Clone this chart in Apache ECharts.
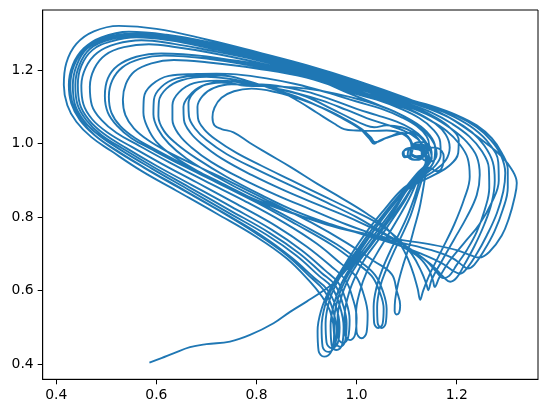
<!DOCTYPE html>
<html>
<head>
<meta charset="utf-8">
<script src="https://cdn.jsdelivr.net/npm/echarts@6/dist/echarts.min.js"></script>
<style>
html,body{margin:0;padding:0;background:#fff;}
#chart{width:547px;height:413px;}
</style>
</head>
<body>
<div id="chart"></div>
<script>
// Tick labels
const xTicks = [0.4, 0.6, 0.8, 1.0, 1.2];
const yTicks = [0.4, 0.6, 0.8, 1.0, 1.2];

// Trajectory pieces, in drawing order
const seg01 = [[0.586,0.404],[0.61,0.416],[0.634,0.429],[0.667,0.446],[0.70,0.454],[0.747,0.461],[0.787,0.479],[0.834,0.511],[0.867,0.542],[0.90,0.57],[0.934,0.60],[0.962,0.63],[0.99,0.675],[1.025,0.745],[1.06,0.81],[1.095,0.87],[1.12,0.915]];
const seg02 = [[1.138,0.95],[1.135,0.98],[1.12,0.993],[1.105,0.985],[1.102,0.967],[1.115,0.956],[1.13,0.966],[1.13,0.99],[1.122,1.015],[1.105,1.03],[1.085,1.026],[1.06,1.016],[1.037,1.004],[1.028,1.018],[1.01,1.04],[0.98,1.065],[0.94,1.093],[0.89,1.12],[0.84,1.14],[0.79,1.15]];
const seg03 = [[0.755,1.143],[0.73,1.125],[0.716,1.098],[0.712,1.072],[0.716,1.05],[0.73,1.04],[0.754,1.031],[0.787,1.002],[0.82,0.975],[0.87,0.935],[0.92,0.892],[0.97,0.852],[1.02,0.81],[1.06,0.77],[1.09,0.72],[1.11,0.66],[1.122,0.605],[1.127,0.575]];
const seg04 = [[1.133,0.6],[1.148,0.65],[1.17,0.71],[1.195,0.78],[1.215,0.85],[1.226,0.91],[1.222,0.96],[1.205,1.0],[1.18,1.035],[1.145,1.065],[1.1,1.095]];
const seg05 = [[1.0,1.14],[0.9,1.188],[0.8,1.222],[0.7,1.25],[0.64,1.263],[0.585,1.271],[0.535,1.263],[0.498,1.242],[0.476,1.205],[0.467,1.155],[0.471,1.105],[0.49,1.065],[0.52,1.03],[0.565,0.995],[0.625,0.95],[0.695,0.9],[0.775,0.845],[0.855,0.785],[0.92,0.728],[0.97,0.672],[0.998,0.64]];
const seg06 = [[1.014,0.59],[1.022,0.535],[1.02,0.487],[1.01,0.47],[1.0,0.487],[0.999,0.54],[1.007,0.6],[1.02,0.65],[1.04,0.7],[1.06,0.745],[1.082,0.795],[1.104,0.848],[1.12,0.895],[1.132,0.928]];
const seg07 = [[1.14,0.955],[1.132,0.978],[1.115,0.986],[1.1,0.984],[1.092,0.974],[1.096,0.963],[1.106,0.967],[1.11,0.985],[1.108,1.005],[1.09,1.028],[1.06,1.036],[1.03,1.035],[1.0,1.036],[0.975,1.04],[0.955,1.055],[0.92,1.085],[0.885,1.115],[0.847,1.142],[0.8,1.16]];
const seg08 = [[0.75,1.162],[0.715,1.152],[0.692,1.13],[0.682,1.1],[0.683,1.07],[0.695,1.04],[0.72,1.01],[0.76,0.975],[0.81,0.94],[0.87,0.9],[0.93,0.86],[0.99,0.82],[1.04,0.785],[1.08,0.745],[1.11,0.7],[1.13,0.65],[1.14,0.615],[1.143,0.601]];
const seg09 = [[1.15,0.63],[1.17,0.68],[1.195,0.74],[1.22,0.8],[1.24,0.86],[1.246,0.915],[1.24,0.965],[1.22,1.005],[1.19,1.04],[1.15,1.074],[1.1,1.102]];
const seg10 = [[1.0,1.145],[0.9,1.192],[0.8,1.228],[0.7,1.256],[0.635,1.272],[0.57,1.282],[0.52,1.272],[0.482,1.248],[0.459,1.208],[0.45,1.158],[0.454,1.108],[0.472,1.066],[0.503,1.03],[0.55,0.992],[0.61,0.946],[0.68,0.895],[0.76,0.836],[0.84,0.775],[0.9,0.72],[0.95,0.665],[0.977,0.63]];
const seg11 = [[0.992,0.58],[1.0,0.525],[0.997,0.48],[0.987,0.465],[0.977,0.48],[0.976,0.53],[0.984,0.59],[0.998,0.64],[1.018,0.69],[1.042,0.735],[1.068,0.787],[1.094,0.84],[1.116,0.89],[1.138,0.918],[1.157,0.94],[1.168,0.97],[1.167,1.005],[1.152,1.04],[1.125,1.07],[1.085,1.097],[1.04,1.12]];
const seg12 = [[1.0,1.135],[0.9,1.18],[0.8,1.205],[0.7,1.222],[0.635,1.228],[0.59,1.219],[0.556,1.197],[0.539,1.163],[0.533,1.12],[0.538,1.078],[0.555,1.042],[0.583,1.01],[0.62,0.98],[0.68,0.94],[0.75,0.895],[0.83,0.84],[0.91,0.785],[0.98,0.73],[1.035,0.68],[1.07,0.645]];
const seg13 = [[1.08,0.6],[1.087,0.56],[1.085,0.54],[1.08,0.535],[1.076,0.545],[1.077,0.575],[1.083,0.62],[1.093,0.67],[1.105,0.72],[1.115,0.77],[1.125,0.82],[1.132,0.87],[1.137,0.91],[1.14,0.935]];
const seg14 = [[1.15,0.96],[1.145,0.985],[1.128,0.998],[1.112,0.99],[1.11,0.972],[1.122,0.962],[1.138,0.97],[1.142,0.99],[1.132,1.015],[1.11,1.04],[1.08,1.06],[1.04,1.078],[1.0,1.095],[0.95,1.12],[0.9,1.142],[0.84,1.158],[0.79,1.163]];
const seg15 = [[0.74,1.17],[0.7,1.162],[0.675,1.14],[0.664,1.11],[0.665,1.075],[0.678,1.04],[0.70,1.01],[0.74,0.972],[0.8,0.93],[0.87,0.885],[0.94,0.84],[1.0,0.8],[1.05,0.76],[1.1,0.72],[1.14,0.68],[1.16,0.65],[1.173,0.634],[1.185,0.64],[1.2,0.67]];
const seg16 = [[1.22,0.71],[1.24,0.76],[1.256,0.82],[1.265,0.88],[1.264,0.935],[1.25,0.98],[1.225,1.02],[1.19,1.055],[1.15,1.085],[1.1,1.11]];
const seg17 = [[1.0,1.15],[0.9,1.196],[0.8,1.232],[0.7,1.262],[0.63,1.281],[0.56,1.29],[0.51,1.279],[0.472,1.255],[0.45,1.212],[0.443,1.16],[0.447,1.108],[0.465,1.065],[0.495,1.027],[0.54,0.988],[0.6,0.94],[0.67,0.888],[0.75,0.828],[0.83,0.766],[0.89,0.71],[0.937,0.655],[0.963,0.622]];
const seg18 = [[0.978,0.575],[0.986,0.52],[0.983,0.472],[0.973,0.457],[0.963,0.472],[0.962,0.525],[0.97,0.585],[0.985,0.635],[1.005,0.68],[1.03,0.725],[1.058,0.778],[1.088,0.834],[1.112,0.885],[1.13,0.925]];
const seg19 = [[1.145,0.935],[1.16,0.925],[1.172,0.94],[1.174,0.965],[1.162,0.988],[1.143,0.99],[1.13,0.975],[1.135,0.955],[1.15,0.952],[1.16,0.972],[1.155,1.0],[1.14,1.028],[1.115,1.058],[1.075,1.088],[1.02,1.115],[0.96,1.136],[0.9,1.15],[0.84,1.156],[0.78,1.158]];
const seg20 = [[0.73,1.167],[0.69,1.157],[0.665,1.13],[0.654,1.1],[0.655,1.065],[0.668,1.03],[0.69,1.0],[0.73,0.96],[0.79,0.915],[0.86,0.87],[0.93,0.83],[1.0,0.79],[1.06,0.75],[1.11,0.71],[1.15,0.67],[1.175,0.635],[1.187,0.624],[1.2,0.635],[1.215,0.67]];
const seg21 = [[1.235,0.72],[1.255,0.78],[1.27,0.84],[1.276,0.9],[1.272,0.95],[1.255,0.995],[1.23,1.032],[1.195,1.064],[1.15,1.092],[1.1,1.115]];
const seg22 = [[1.0,1.155],[0.9,1.2],[0.8,1.236],[0.7,1.266],[0.625,1.286],[0.556,1.294],[0.505,1.283],[0.467,1.258],[0.446,1.214],[0.438,1.16],[0.442,1.108],[0.46,1.064],[0.49,1.024],[0.535,0.985],[0.595,0.936],[0.665,0.882],[0.745,0.82],[0.825,0.758],[0.885,0.702],[0.93,0.648],[0.957,0.615]];
const seg23 = [[0.972,0.565],[0.98,0.51],[0.977,0.462],[0.967,0.447],[0.957,0.462],[0.955,0.515],[0.962,0.575],[0.978,0.63],[0.998,0.675],[1.024,0.72],[1.052,0.774],[1.08,0.828],[1.104,0.88],[1.13,0.905],[1.157,0.928],[1.178,0.955],[1.186,0.99],[1.178,1.025],[1.157,1.055],[1.12,1.085],[1.075,1.11],[1.03,1.128]];
const seg24 = [[1.0,1.138],[0.9,1.183],[0.8,1.21],[0.7,1.232],[0.615,1.24],[0.568,1.231],[0.532,1.208],[0.512,1.173],[0.505,1.128],[0.51,1.085],[0.528,1.048],[0.558,1.015],[0.6,0.983],[0.66,0.94],[0.73,0.893],[0.81,0.838],[0.89,0.78],[0.96,0.726],[1.01,0.676],[1.037,0.642]];
const seg25 = [[1.052,0.6],[1.06,0.55],[1.058,0.51],[1.05,0.498],[1.042,0.512],[1.041,0.555],[1.047,0.61],[1.06,0.66],[1.076,0.71],[1.092,0.755],[1.108,0.805],[1.12,0.856],[1.13,0.9],[1.136,0.93]];
const seg26 = [[1.145,0.958],[1.14,0.985],[1.125,0.998],[1.11,0.99],[1.108,0.973],[1.12,0.963],[1.135,0.968],[1.14,0.988],[1.133,1.01],[1.115,1.03],[1.09,1.045],[1.06,1.05],[1.035,1.045],[1.015,1.052],[0.99,1.068],[0.95,1.095],[0.9,1.128],[0.85,1.147],[0.8,1.163],[0.76,1.17]];
const seg27 = [[0.72,1.172],[0.675,1.165],[0.645,1.14],[0.632,1.105],[0.632,1.065],[0.645,1.025],[0.67,0.99],[0.71,0.95],[0.77,0.905],[0.84,0.86],[0.91,0.82],[0.98,0.78],[1.04,0.75],[1.09,0.72],[1.125,0.69],[1.145,0.655],[1.153,0.625],[1.156,0.61],[1.165,0.635]];
const seg28 = [[1.185,0.68],[1.215,0.73],[1.245,0.78],[1.27,0.84],[1.284,0.9],[1.283,0.95],[1.265,1.0],[1.235,1.04],[1.195,1.073],[1.15,1.099],[1.1,1.118]];
const seg29 = [[1.0,1.16],[0.9,1.204],[0.8,1.24],[0.7,1.27],[0.62,1.29],[0.552,1.297],[0.5,1.286],[0.462,1.26],[0.441,1.215],[0.433,1.16],[0.437,1.108],[0.455,1.063],[0.485,1.023],[0.53,0.982],[0.59,0.933],[0.66,0.878],[0.74,0.815],[0.82,0.752],[0.88,0.695],[0.925,0.64],[0.95,0.61]];
const seg30 = [[0.966,0.56],[0.974,0.5],[0.971,0.452],[0.96,0.438],[0.95,0.452],[0.948,0.505],[0.955,0.565],[0.97,0.62],[0.99,0.668],[1.015,0.714],[1.045,0.77],[1.076,0.828],[1.104,0.88],[1.125,0.92]];
const seg31 = [[1.14,0.95],[1.138,0.978],[1.122,0.99],[1.108,0.982],[1.107,0.965],[1.12,0.956],[1.133,0.965],[1.133,0.99],[1.12,1.015],[1.095,1.035],[1.06,1.052],[1.02,1.07],[0.98,1.092],[0.93,1.118],[0.88,1.138],[0.83,1.153],[0.78,1.168],[0.745,1.177]];
const seg32 = [[0.7,1.182],[0.65,1.173],[0.62,1.15],[0.605,1.115],[0.604,1.075],[0.615,1.035],[0.64,1.0],[0.68,0.96],[0.74,0.91],[0.81,0.86],[0.88,0.815],[0.95,0.78],[1.02,0.75],[1.08,0.725],[1.13,0.7],[1.17,0.675],[1.195,0.652],[1.207,0.646],[1.22,0.66],[1.24,0.7]];
const seg33 = [[1.26,0.75],[1.28,0.81],[1.293,0.87],[1.297,0.92],[1.288,0.97],[1.268,1.01],[1.24,1.045],[1.2,1.076],[1.15,1.101],[1.1,1.12]];
const seg34 = [[1.0,1.165],[0.9,1.207],[0.8,1.243],[0.7,1.274],[0.62,1.293],[0.55,1.3],[0.495,1.288],[0.458,1.26],[0.436,1.215],[0.428,1.16],[0.433,1.108],[0.45,1.063],[0.478,1.022],[0.52,0.982],[0.58,0.932],[0.65,0.878],[0.73,0.815],[0.81,0.75],[0.87,0.69],[0.915,0.635],[0.94,0.605]];
const seg35 = [[0.958,0.56],[0.966,0.5],[0.962,0.456],[0.95,0.443],[0.94,0.458],[0.938,0.51],[0.945,0.57],[0.96,0.62],[0.98,0.665],[1.006,0.712],[1.036,0.767],[1.068,0.825],[1.098,0.872],[1.125,0.895],[1.155,0.915],[1.185,0.94],[1.203,0.975],[1.204,1.01],[1.188,1.042],[1.16,1.07],[1.12,1.097],[1.07,1.12],[1.03,1.133]];
const seg36 = [[1.0,1.142],[0.9,1.186],[0.8,1.215],[0.7,1.238],[0.61,1.246],[0.56,1.237],[0.523,1.213],[0.503,1.178],[0.497,1.13],[0.503,1.085],[0.522,1.048],[0.55,1.015],[0.59,0.985],[0.65,0.942],[0.72,0.895],[0.8,0.84],[0.88,0.78],[0.95,0.725],[1.0,0.675],[1.03,0.64]];
const seg37 = [[1.045,0.6],[1.054,0.55],[1.052,0.51],[1.043,0.498],[1.035,0.512],[1.034,0.555],[1.04,0.61],[1.052,0.66],[1.068,0.71],[1.085,0.755],[1.102,0.805],[1.116,0.856],[1.126,0.9],[1.134,0.93]];
const seg38 = [[1.142,0.957],[1.134,0.98],[1.118,0.99],[1.103,0.988],[1.094,0.977],[1.098,0.966],[1.108,0.97],[1.112,0.988],[1.108,1.01],[1.09,1.03],[1.067,1.02],[1.045,1.008],[1.035,1.0],[1.025,1.015],[1.005,1.042],[0.97,1.07],[0.93,1.098],[0.88,1.128],[0.83,1.15],[0.78,1.172],[0.73,1.186]];
const seg39 = [[0.69,1.186],[0.64,1.178],[0.61,1.155],[0.595,1.12],[0.594,1.08],[0.603,1.04],[0.625,1.0],[0.66,0.96],[0.72,0.91],[0.79,0.86],[0.86,0.818],[0.94,0.78],[1.02,0.752],[1.09,0.73],[1.15,0.71],[1.19,0.69],[1.213,0.667],[1.222,0.66],[1.235,0.67],[1.255,0.71]];
const seg40 = [[1.275,0.76],[1.292,0.82],[1.302,0.88],[1.302,0.93],[1.29,0.975],[1.27,1.015],[1.24,1.05],[1.2,1.078],[1.15,1.103],[1.1,1.122]];
const seg41 = [[1.0,1.168],[0.9,1.21],[0.8,1.246],[0.7,1.278],[0.62,1.297],[0.545,1.305],[0.49,1.29],[0.455,1.26],[0.433,1.215],[0.425,1.16],[0.43,1.11],[0.447,1.065],[0.475,1.025],[0.515,0.985],[0.575,0.935],[0.645,0.88],[0.725,0.818],[0.8,0.755],[0.86,0.697],[0.905,0.64],[0.935,0.6]];
const seg42 = [[0.952,0.55],[0.96,0.49],[0.956,0.447],[0.943,0.433],[0.932,0.447],[0.93,0.5],[0.937,0.56],[0.952,0.61],[0.972,0.655],[0.998,0.705],[1.028,0.762],[1.062,0.822],[1.094,0.874],[1.12,0.918]];
const seg43 = [[1.14,0.945],[1.15,0.97],[1.145,0.995],[1.128,1.005],[1.112,0.997],[1.108,0.978],[1.12,0.966],[1.137,0.972],[1.145,0.995],[1.14,1.02],[1.12,1.048],[1.09,1.072],[1.05,1.095],[1.0,1.115],[0.94,1.14],[0.88,1.162],[0.82,1.178],[0.76,1.189],[0.72,1.191]];
const seg44 = [[0.68,1.19],[0.625,1.185],[0.59,1.16],[0.575,1.125],[0.574,1.085],[0.582,1.045],[0.6,1.005],[0.635,0.965],[0.69,0.92],[0.76,0.87],[0.84,0.825],[0.92,0.79],[1.0,0.76],[1.08,0.74],[1.15,0.725],[1.2,0.71],[1.23,0.695],[1.245,0.69],[1.265,0.705],[1.29,0.75]];
const seg45 = [[1.305,0.8],[1.315,0.85],[1.32,0.893],[1.31,0.93],[1.29,0.965],[1.26,1.0],[1.22,1.04],[1.18,1.075],[1.14,1.1],[1.1,1.124]];
const seg46 = [[1.0,1.172],[0.9,1.214],[0.8,1.25],[0.7,1.284],[0.6,1.313],[0.525,1.321],[0.475,1.306],[0.44,1.272],[0.42,1.22],[0.415,1.16],[0.422,1.105],[0.44,1.06],[0.47,1.018],[0.51,0.98],[0.57,0.926],[0.64,0.872],[0.72,0.81],[0.8,0.746],[0.86,0.688],[0.905,0.627]];
const seg47 = [[0.93,0.585],[0.948,0.54],[0.955,0.48],[0.95,0.436],[0.935,0.42],[0.924,0.436],[0.922,0.49],[0.93,0.55],[0.945,0.6],[0.965,0.645],[0.99,0.7],[1.02,0.76],[1.055,0.82],[1.088,0.872],[1.115,0.9],[1.14,0.925],[1.155,0.955],[1.157,0.99],[1.145,1.025],[1.12,1.055],[1.08,1.085],[1.03,1.113],[0.98,1.14],[0.93,1.17],[0.867,1.2],[0.78,1.222],[0.688,1.237]];

const segments = [seg01,seg02,seg03,seg04,seg05,seg06,seg07,seg08,seg09,seg10,seg11,seg12,seg13,seg14,seg15,seg16,seg17,seg18,seg19,seg20,seg21,seg22,seg23,seg24,seg25,seg26,seg27,seg28,seg29,seg30,seg31,seg32,seg33,seg34,seg35,seg36,seg37,seg38,seg39,seg40,seg41,seg42,seg43,seg44,seg45,seg46,seg47];
const trajectory = [].concat(...segments);

const chart = echarts.init(document.getElementById('chart'), null, {renderer: 'canvas'});
const fontFamily = 'DejaVu Sans';
const axisCommon = {
  type: 'value',
  splitLine: {show: false},
  axisLine: {show: true, onZero: false, lineStyle: {color: '#000', width: 1}},
  axisTick: {show: true, length: 5, lineStyle: {color: '#000', width: 1}},
  axisLabel: {color: '#000', fontFamily: fontFamily, fontSize: 13.9, margin: 9,
              formatter: v => Number(v).toFixed(1)}
};
chart.setOption({
  animation: false,
  backgroundColor: '#fff',
  grid: {left: 42.7, right: 9, top: 10, bottom: 33.7, show: true, borderColor: '#000', borderWidth: 1},
  xAxis: Object.assign({}, axisCommon, {
    min: 0.3728, max: 1.3624,
    axisTick: Object.assign({}, axisCommon.axisTick, {customValues: xTicks}),
    axisLabel: Object.assign({}, axisCommon.axisLabel, {customValues: xTicks})
  }),
  yAxis: Object.assign({}, axisCommon, {
    min: 0.3583, max: 1.3643,
    axisTick: Object.assign({}, axisCommon.axisTick, {customValues: yTicks}),
    axisLabel: Object.assign({}, axisCommon.axisLabel, {customValues: yTicks})
  }),
  series: [{
    type: 'line',
    data: trajectory,
    showSymbol: false,
    symbol: 'none',
    smooth: 0.4,
    lineStyle: {color: '#1f77b4', width: 1.9},
    clip: true
  }]
});
</script>
</body>
</html>
